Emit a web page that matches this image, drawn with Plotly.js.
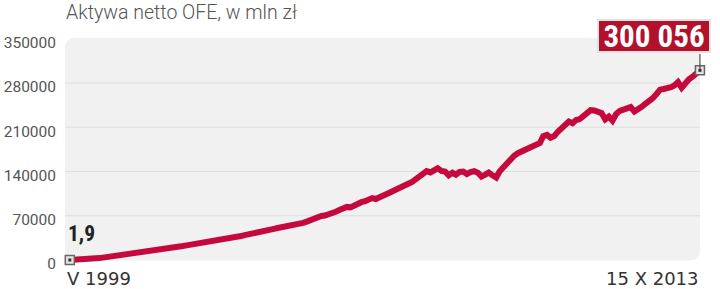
<!DOCTYPE html>
<html><head><meta charset="utf-8">
<script src="https://cdn.plot.ly/plotly-3.0.1.min.js"></script>
<style>html,body{margin:0;padding:0;background:#fff}#chart{width:720px;height:289px}</style>
</head><body><div id="chart"></div>
<script>
// Monthly net assets of OFE (mln zł), May 1999 .. 15 Oct 2013
const startYear = 1999, startMonth = 5;
const values1999 = [1.9, 150, 400, 700, 1000, 1400, 1900, 2300];
const values2000 = [3000, 3800, 4500, 5200, 6000, 6800, 7600, 8500, 9500, 10600, 11500, 12500];
const values2001 = [13300, 14100, 14700, 15400, 16200, 16900, 17500, 18300, 18800, 19700, 21000, 22200];
const values2002 = [23200, 24100, 24900, 25800, 26500, 27200, 27900, 28900, 29800, 30900, 32300, 33800];
const values2003 = [34700, 35600, 36500, 37900, 39300, 40300, 41400, 42500, 43800, 45200, 46500, 48500];
const values2004 = [49300, 50600, 51500, 52200, 52900, 54300, 55700, 57200, 58800, 60700, 63300, 66500];
const values2005 = [67700, 69600, 70300, 71600, 74000, 76400, 79000, 81500, 84000, 83300, 86700, 89800];
const values2006 = [91500, 93000, 95500, 98000, 96500, 98500, 101000, 104500, 107300, 110500, 113500, 117000];
const values2007 = [119500, 121000, 123500, 128000, 132600, 136500, 140500, 138500, 141500, 145000, 141000, 140000];
const values2008 = [134000, 138000, 135000, 139500, 140000, 136000, 139000, 140500, 138000, 132000, 135000, 138300];
const values2009 = [134000, 130500, 140000, 147000, 153000, 160000, 165000, 169000, 172000, 175000, 176500, 180000];
const values2010 = [183000, 185000, 196000, 198000, 193500, 196000, 203000, 208000, 214000, 219000, 216500, 221500];
const values2011 = [223000, 227000, 233000, 237000, 236500, 235000, 232500, 222500, 227000, 220500, 231000, 236000];
const values2012 = [237500, 240000, 242000, 235000, 238000, 242500, 247000, 250500, 256000, 262000, 269500, 270500];
const values2013 = [271000, 273500, 276000, 281500, 272500, 280000, 286000, 290000, 295000, 300056];

const values = [].concat(values1999, values2000, values2001, values2002, values2003, values2004,
  values2005, values2006, values2007, values2008, values2009, values2010, values2011, values2012, values2013);

const dates = values.map((v, i) => {
  const m = startMonth - 1 + i;
  const y = startYear + Math.floor(m / 12);
  const mm = (m % 12) + 1;
  return y + '-' + String(mm).padStart(2, '0') + '-15';
});

const yTicks = [0, 70000, 140000, 210000, 280000, 350000];
const gridVals = [70000, 140000, 210000, 280000];
const titleText = 'Aktywa netto OFE, w mln zł';
const startLabel = 'V 1999', endLabel = '15 X 2013';
const firstValueLabel = '1,9', lastValueLabel = '300 056';

const lineColor = '#c6093c';
const n = values.length;
const firstX = dates[0], lastX = dates[n - 1];

// plot area: x 60..710, y 30..269 (pixels); background panel 65..700 x 38..260.5
const ML = 60, MR = 10, MT = 30, MB = 20;
const PW = 720 - ML - MR, PH = 289 - MT - MB;
const px = p => (p - ML) / PW;
const py = p => (289 - MB - p) / PH;
const bx0 = px(65), bx1 = px(700), by1 = py(38), by0 = py(260.5);
const rx = 10 / PW, ry = 10 / PH;
const bgPath = `M ${bx0 + rx} ${by1} L ${bx1 - rx} ${by1} Q ${bx1} ${by1} ${bx1} ${by1 - ry} L ${bx1} ${by0 + ry} Q ${bx1} ${by0} ${bx1 - rx} ${by0} L ${bx0 + rx} ${by0} Q ${bx0} ${by0} ${bx0} ${by0 + ry} L ${bx0} ${by1 - ry} Q ${bx0} ${by1} ${bx0 + rx} ${by1} Z`;

const shapes = [{
  type: 'path', xref: 'paper', yref: 'paper', path: bgPath,
  fillcolor: '#f1f1f1', line: {width: 0}, layer: 'below'
}];
gridVals.forEach(v => shapes.push({
  type: 'line', xref: 'paper', x0: bx0, x1: bx1, yref: 'y', y0: v, y1: v,
  line: {color: '#dddddd', width: 1}, layer: 'below'
}));
shapes.push({
  type: 'line', xref: 'x', x0: lastX, x1: lastX, yref: 'y', y0: values[n - 1], y1: values[n - 1] + 26000,
  line: {color: '#333', width: 1}, layer: 'above'
});

const traces = [
  {x: dates, y: values, type: 'scatter', mode: 'lines',
   line: {color: lineColor, width: 6, shape: 'linear'}, hoverinfo: 'skip'},
  {x: [firstX, lastX], y: [values[0], values[n - 1]], type: 'scatter', mode: 'markers', cliponaxis: false,
   marker: {symbol: 'square', size: 9, color: '#e4e4e4', line: {color: '#666', width: 1.5}}, hoverinfo: 'skip'},
  {x: [firstX, lastX], y: [values[0], values[n - 1]], type: 'scatter', mode: 'markers', cliponaxis: false,
   marker: {symbol: 'square', size: 3, color: '#333'}, hoverinfo: 'skip'}
];

const layout = {
  width: 720, height: 289,
  margin: {l: ML, r: MR, t: MT, b: MB},
  paper_bgcolor: '#ffffff', plot_bgcolor: 'rgba(0,0,0,0)',
  showlegend: false,
  font: {family: 'Roboto, sans-serif', color: '#444'},
  title: {text: titleText, x: 66 / 720, xanchor: 'left', xref: 'container', y: 1 - 12.5 / 289, yanchor: 'middle', yref: 'container',
          font: {size: 19.5, color: '#555', family: 'Roboto, sans-serif', weight: 300}},
  xaxis: {
    type: 'date', range: ['1999-02-22', '2014-01-07'],
    showgrid: false, zeroline: false, showticklabels: false, ticks: '', showline: false, fixedrange: true
  },
  yaxis: {
    range: [-14240, 363900], tickvals: yTicks, tickformat: 'd',
    showgrid: false, zeroline: false, ticks: '', showline: false,
    tickfont: {size: 15.5, color: '#555', family: 'Roboto, sans-serif'},
    ticklabelstandoff: 3, ticklabelshift: 4
  },
  shapes: shapes,
  annotations: [
    {xref: 'paper', yref: 'paper', x: px(65), y: 0, xanchor: 'left', yanchor: 'middle', yshift: -9,
     text: startLabel, showarrow: false, font: {size: 18, color: '#333', family: '"DejaVu Sans", sans-serif'}},
    {xref: 'paper', yref: 'paper', x: px(701), y: 0, xanchor: 'right', yanchor: 'middle', yshift: -9,
     text: endLabel, showarrow: false, font: {size: 18, color: '#333', family: '"DejaVu Sans", sans-serif'}},
    {xref: 'x', yref: 'y', x: firstX, y: values[0], xanchor: 'left', yanchor: 'bottom', xshift: -4, yshift: 12,
     text: '<b>' + firstValueLabel + '</b>', showarrow: false,
     font: {size: 21.5, color: '#222', family: '"Liberation Sans Narrow", "Roboto Condensed", Roboto, sans-serif'}},
    {xref: 'x', yref: 'y', x: lastX, y: values[n - 1], xanchor: 'right', yanchor: 'bottom', xshift: 11, yshift: 17,
     text: '<b>' + lastValueLabel + '</b>', showarrow: false, width: 110, height: 30, align: 'center', valign: 'middle',
     bgcolor: '#b3102b', bordercolor: '#e2e2e2', borderwidth: 2, borderpad: 0,
     font: {size: 31, color: '#ffffff', family: '"Liberation Sans Narrow", "Roboto Condensed", Roboto, sans-serif'}}
  ]
};

Plotly.newPlot('chart', traces, layout, {staticPlot: true, displayModeBar: false});
</script></body></html>
